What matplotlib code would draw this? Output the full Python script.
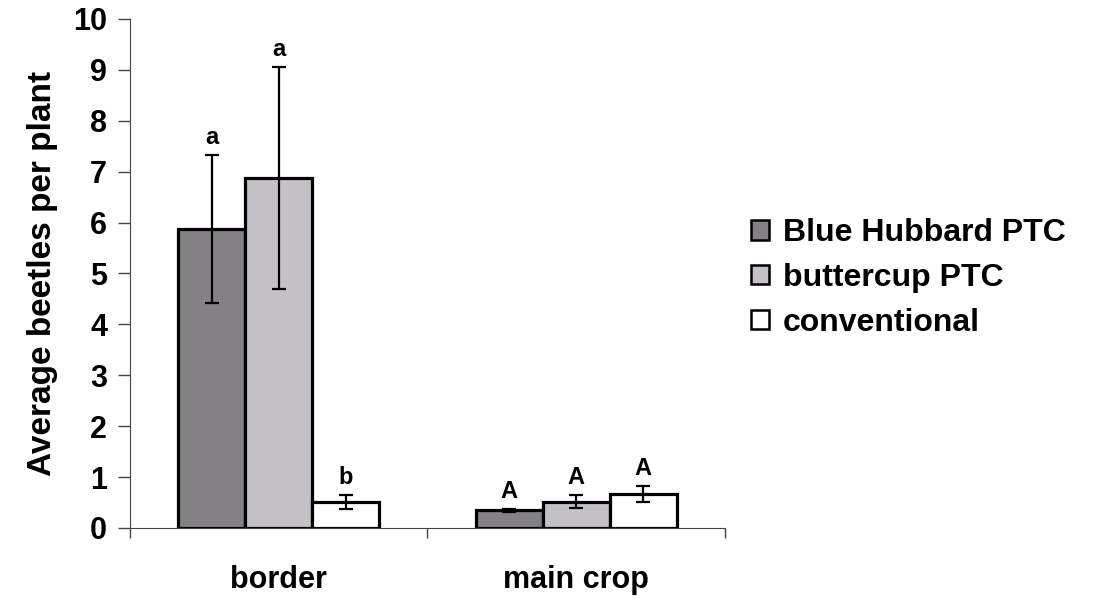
import matplotlib.pyplot as plt
import numpy as np

plt.rcParams["font.family"] = ["Liberation Sans", "DejaVu Sans"]
plt.rcParams["font.weight"] = "bold"

groups = ["border", "main crop"]
series = ["Blue Hubbard PTC", "buttercup PTC", "conventional"]
means = [
    [5.88, 0.35],
    [6.88, 0.52],
    [0.51, 0.67],
]
errors = [
    [1.45, 0.03],
    [2.18, 0.13],
    [0.13, 0.16],
]
letters = [
    ["a", "A"],
    ["a", "A"],
    ["b", "A"],
]
colors = ["#838183", "#c3c1c5", "#ffffff"]

fig = plt.figure(figsize=(10.96, 6.03), dpi=100)
ax = fig.add_axes([0.1186, 0.1244, 0.5429, 0.8441])

x = np.arange(len(groups)) + 0.5
width = 0.225
for i, name in enumerate(series):
    pos = x + (i - 1) * width
    ax.bar(pos, means[i], width, color=colors[i], edgecolor="black",
           linewidth=2.3, label=name, zorder=2)
    ax.errorbar(pos, means[i], yerr=errors[i], fmt="none", ecolor="black",
                elinewidth=1.6, capsize=5, capthick=1.6, zorder=3)
    for p, m, e, t in zip(pos, means[i], errors[i], letters[i]):
        ax.text(p, m + e + 0.12, t, ha="center", va="bottom",
                fontsize=17, fontweight="bold")

ax.set_xlim(0, 2)
ax.set_ylim(0, 10)
ax.set_yticks(range(0, 11))
ax.set_xticks(x)
ax.set_xticklabels(groups, fontsize=22, fontweight="bold")
ax.set_xticks([0, 1, 2], minor=True)
ax.tick_params(axis="x", which="major", length=0, pad=27)
ax.tick_params(axis="x", which="minor", length=7, width=1, color="#444444")
ax.tick_params(axis="y", length=8.5, width=1, color="#444444", labelsize=22, pad=8)
for lbl in ax.get_yticklabels():
    lbl.set_fontweight("bold")
ax.set_ylabel("Average beetles per plant", fontsize=24, fontweight="bold", labelpad=11)

ax.spines["top"].set_visible(False)
ax.spines["right"].set_visible(False)
ax.spines["left"].set_color("#444444")
ax.spines["bottom"].set_color("#444444")

leg = ax.legend(loc="center left", bbox_to_anchor=(1.017, 0.491), frameon=False,
                fontsize=23, handlelength=0.55, handleheight=0.55, borderpad=0,
                handletextpad=0.45, labelspacing=0.46)
for h in leg.legend_handles:
    h.set_linewidth(1.8)

fig.savefig("out.png", dpi=100)
